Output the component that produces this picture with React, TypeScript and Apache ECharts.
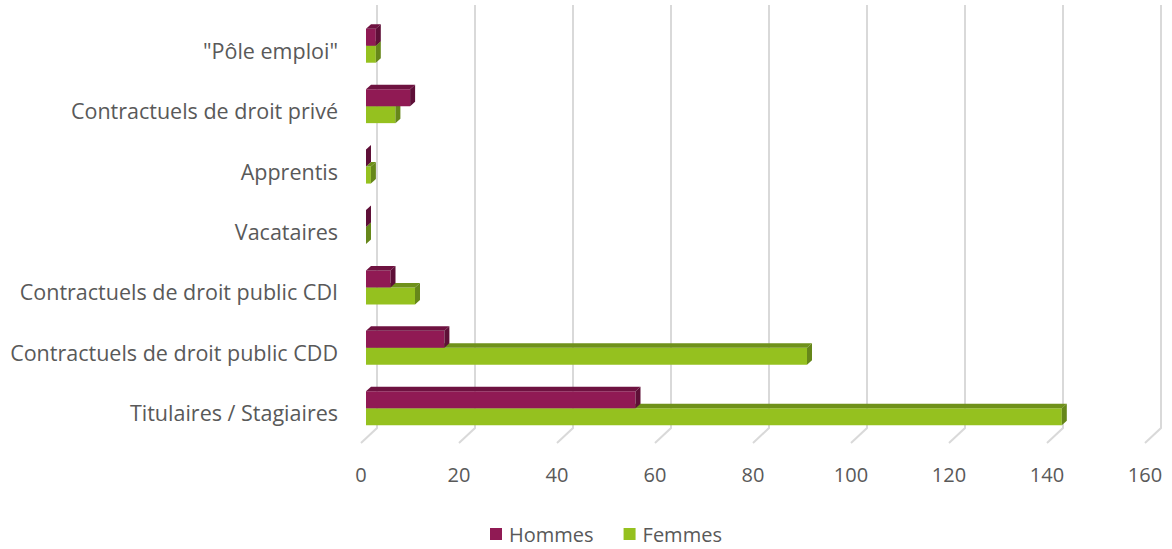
import React, { useEffect, useRef } from "react";
import * as echarts from "echarts";

const categories = [
  '"Pôle emploi"',
  "Contractuels de droit privé",
  "Apprentis",
  "Vacataires",
  "Contractuels de droit public CDI",
  "Contractuels de droit public CDD",
  "Titulaires / Stagiaires",
];
const hommes = [2, 9, 0, 0, 5, 16, 55];
const femmes = [2, 6, 1, 0, 10, 90, 142];
const xTicks = [0, 20, 40, 60, 80, 100, 120, 140, 160];

const FONT = "'Open Sans', sans-serif";
const LABEL = "#595959";
const GRID = "#D9D9D9";
const BAR_H = 17;
const DX = 5;
const DY = 4.5;
const OFF_X = 5;
const OFF_Y = -4.5;
const BACK_X = 16;
const BACK_Y = 15;

const palette = {
  Hommes: { front: "#901A54", top: "#6E1240", side: "#5E0F37" },
  Femmes: { front: "#95C11F", top: "#6F911A", side: "#66871A" },
};

function barRenderer(name: "Hommes" | "Femmes") {
  const col = palette[name];
  return (params: any, api: any) => {
    const val = api.value(0);
    const cat = api.value(1);
    const p0 = api.coord([0, cat]);
    const p1 = api.coord([val, cat]);
    const x = p0[0] + OFF_X;
    const w = Math.max(0, p1[0] - p0[0]);
    const center = p0[1] + OFF_Y;
    const top = name === "Hommes" ? center - BAR_H : center;
    const bottom = top + BAR_H;
    return {
      type: "group",
      children: [
        {
          type: "rect",
          shape: { x, y: top, width: w, height: BAR_H },
          style: { fill: col.front },
        },
        {
          type: "polygon",
          shape: {
            points: [
              [x, top],
              [x + w, top],
              [x + w + DX, top - DY],
              [x + DX, top - DY],
            ],
          },
          style: { fill: col.top },
        },
        {
          type: "polygon",
          shape: {
            points: [
              [x + w, top],
              [x + w + DX, top - DY],
              [x + w + DX, bottom - DY],
              [x + w, bottom],
            ],
          },
          style: { fill: col.side },
        },
      ],
    };
  };
}

export default function App() {
  const ref = useRef<HTMLDivElement>(null);
  useEffect(() => {
    if (!ref.current) return;
    const chart = echarts.init(ref.current, null, { renderer: "svg" });
    chart.setOption({
      animation: false,
      backgroundColor: "#ffffff",
      textStyle: { fontFamily: FONT },
      grid: { left: 361, right: 27, top: 20, bottom: 106, containLabel: false },
      legend: {
        top: 524,
        left: 490,
        padding: 0,
        icon: "rect",
        itemWidth: 12,
        itemHeight: 12,
        itemGap: 30,
        textStyle: {
          color: LABEL,
          fontSize: 20,
          fontFamily: FONT,
          padding: [0, 0, 0, 2],
        },
        data: ["Hommes", "Femmes"],
      },
      xAxis: {
        type: "value",
        min: 0,
        max: 160,
        interval: 20,
        axisLine: { show: false },
        axisTick: { show: false },
        splitLine: { show: false },
        axisLabel: { color: LABEL, fontSize: 20, fontFamily: FONT, margin: 21 },
      },
      yAxis: {
        type: "category",
        inverse: true,
        data: categories,
        axisLine: { show: false },
        axisTick: { show: false },
        splitLine: { show: false },
        axisLabel: { color: LABEL, fontSize: 21.5, fontFamily: FONT, margin: 23 },
      },
      series: [
        {
          type: "custom",
          name: "grid",
          silent: true,
          z: 1,
          clip: false,
          data: xTicks.map((t) => [t, 0]),
          encode: { x: 0, y: 1 },
          renderItem: (params: any, api: any) => {
            const cs = params.coordSys;
            const px = api.coord([api.value(0), 0])[0];
            const bottom = cs.y + cs.height;
            return {
              type: "polyline",
              shape: {
                points: [
                  [px + BACK_X, cs.y - BACK_Y],
                  [px + BACK_X, bottom - BACK_Y],
                  [px, bottom],
                ],
              },
              style: { stroke: GRID, lineWidth: 2, fill: "none" },
            };
          },
        },
        {
          type: "custom",
          name: "Femmes",
          z: 2,
          clip: false,
          itemStyle: { color: "#95C11F" },
          data: femmes.map((v, i) => [v, i]),
          encode: { x: 0, y: 1 },
          renderItem: barRenderer("Femmes"),
        },
        {
          type: "custom",
          name: "Hommes",
          z: 3,
          clip: false,
          itemStyle: { color: "#901A54" },
          data: hommes.map((v, i) => [v, i]),
          encode: { x: 0, y: 1 },
          renderItem: barRenderer("Hommes"),
        },
      ],
    });
    return () => chart.dispose();
  }, []);
  return (
    <div
      ref={ref}
      style={{ position: "absolute", left: 0, top: 0, width: 1172, height: 549 }}
    />
  );
}
